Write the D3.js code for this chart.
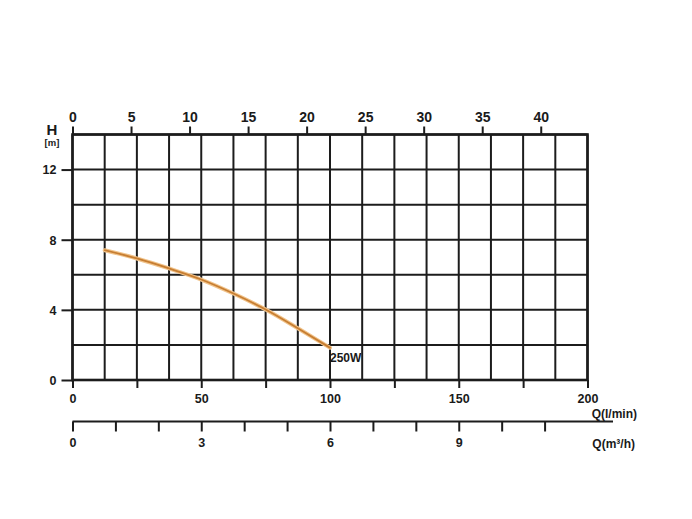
<!DOCTYPE html>
<html>
<head>
<meta charset="utf-8">
<script src="https://cdn.jsdelivr.net/npm/d3@7"></script>
<style>
  html, body { margin: 0; padding: 0; background: #fff; }
  svg { display: block; }
  text { font-family: "Liberation Sans", Arial, sans-serif; font-weight: bold; fill: #1a1a1a; }
</style>
</head>
<body>
<svg id="chart" width="692" height="519"></svg>
<script>
// ---- data ----
const flowLmin = [12.5, 25, 37.5, 50, 62.5, 75, 87.5, 100];
const headM    = [7.4, 6.93, 6.36, 5.73, 4.93, 4.02, 2.95, 1.84];
const curveLabel = "250W";
const yTickValues = [0, 4, 8, 12];
const topTickValues = [0, 5, 10, 15, 20, 25, 30, 35, 40];
const lminTickValues = [0, 25, 50, 75, 100, 125, 150, 175, 200];
const lminLabels = [0, 50, 100, 150, 200];
const m3hTickValues = [0, 1, 2, 3, 4, 5, 6, 7, 8, 9, 10, 11];
const m3hLabels = [0, 3, 6, 9];
const yTitle = "H";
const yUnit = "[m]";
const xTitle1 = "Q(l/min)";
const xTitle2 = "Q(m³/h)";
const LPM_PER_GAL = 4.546;
const LPM_PER_M3H = 1000 / 60;

// ---- layout ----
const svg = d3.select("#chart");
const L = 72.5, R = 587.5, T = 134.5, B = 380;
const x = d3.scaleLinear().domain([0, 200]).range([L, R]);
const y = d3.scaleLinear().domain([0, 14]).range([B, T]);
const xTop = d3.scaleLinear().domain([0, 200 / LPM_PER_GAL]).range([L, R]);
const xM3 = d3.scaleLinear().domain([0, 200 / LPM_PER_M3H]).range([L, R]);
const ink = "#1c1c1c";

// grid
const g = svg.append("g");
g.selectAll(".vg").data(d3.range(0, 200.1, 12.5)).join("line")
  .attr("x1", d => x(d)).attr("x2", d => x(d)).attr("y1", T).attr("y2", B)
  .attr("stroke", ink).attr("stroke-width", 2);
g.selectAll(".hg").data(d3.range(0, 14.1, 2)).join("line")
  .attr("x1", L).attr("x2", R).attr("y1", d => y(d)).attr("y2", d => y(d))
  .attr("stroke", ink).attr("stroke-width", 2);
g.append("rect").attr("x", L).attr("y", T).attr("width", R - L).attr("height", B - T)
  .attr("fill", "none").attr("stroke", ink).attr("stroke-width", 2.6);

function styleAxis(sel) {
  sel.select(".domain").remove();
  sel.selectAll(".tick line").attr("stroke", ink).attr("stroke-width", 2);
  sel.selectAll("text").style("font-size", "12.5px").attr("fill", ink);
}

// top axis (gal/min)
const topAx = svg.append("g").attr("transform", `translate(0,${T})`)
  .call(d3.axisTop(xTop).tickValues(topTickValues).tickSize(8).tickPadding(5).tickFormat(d3.format("d")));
styleAxis(topAx);
topAx.selectAll("text").style("font-size", "14px");

// left axis
const leftAx = svg.append("g").attr("transform", `translate(${L},0)`)
  .call(d3.axisLeft(y).tickValues(yTickValues).tickSize(11).tickPadding(5).tickFormat(d3.format("d")));
styleAxis(leftAx);
leftAx.selectAll("text").attr("dy", "0.35em");

svg.append("text").attr("x", 52).attr("y", 135).attr("text-anchor", "middle")
  .style("font-size", "15px").text(yTitle);
svg.append("text").attr("x", 52).attr("y", 145.5).attr("text-anchor", "middle")
  .style("font-size", "9.5px").text(yUnit);

// bottom axis l/min
const botAx = svg.append("g").attr("transform", `translate(0,${B})`)
  .call(d3.axisBottom(x).tickValues(lminTickValues).tickSize(8).tickPadding(6)
    .tickFormat(d => lminLabels.includes(d) ? d : ""));
styleAxis(botAx);
svg.append("text").attr("x", 637).attr("y", 417.5).attr("text-anchor", "end")
  .style("font-size", "12px").text(xTitle1);

// m3/h axis
const yM = 421.5;
svg.append("line").attr("x1", L).attr("x2", 613).attr("y1", yM).attr("y2", yM)
  .attr("stroke", ink).attr("stroke-width", 2);
const m3Ax = svg.append("g").attr("transform", `translate(0,${yM})`)
  .call(d3.axisBottom(xM3).tickValues(m3hTickValues).tickSize(10).tickPadding(7)
    .tickFormat(d => m3hLabels.includes(d) ? d : ""));
styleAxis(m3Ax);
svg.append("text").attr("x", 635).attr("y", 448).attr("text-anchor", "end")
  .style("font-size", "12px").text(xTitle2);

// curve
const pts = flowLmin.map((q, i) => [x(q), y(headM[i])]);
const lineGen = d3.line().curve(d3.curveMonotoneX);
svg.append("path").attr("d", lineGen(pts)).attr("fill", "none")
  .attr("stroke", "#f1c48c").attr("stroke-width", 4).attr("stroke-linecap", "round");
svg.append("path").attr("d", lineGen(pts)).attr("fill", "none")
  .attr("stroke", "#c77e32").attr("stroke-width", 1.8).attr("stroke-linecap", "round");

const last = pts[pts.length - 1];
svg.append("text").attr("x", last[0]).attr("y", last[1] + 14)
  .style("font-size", "12px").text(curveLabel);
</script>
</body>
</html>
